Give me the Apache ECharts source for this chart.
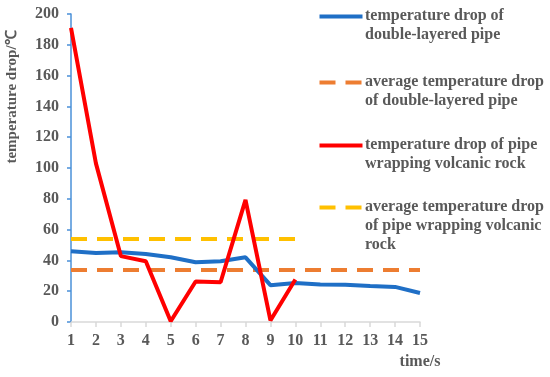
<!DOCTYPE html>
<html><head><meta charset="utf-8">
<script src="https://cdn.jsdelivr.net/npm/echarts@6/dist/echarts.min.js"></script>
<style>html,body{margin:0;padding:0;background:#fff}#c{width:550px;height:377px}</style>
</head><body><div id="c"></div>
<script>
var categories = ['1','2','3','4','5','6','7','8','9','10','11','12','13','14','15'];
var doubleLayered = [46, 44.8, 45.3, 44.2, 42, 38.8, 39.4, 42, 23.9, 25.4, 24.3, 24.2, 23.3, 22.8, 18.8];
var avgDoubleLayered = [33.7,33.7,33.7,33.7,33.7,33.7,33.7,33.7,33.7,33.7,33.7,33.7,33.7,33.7,33.7];
var volcanic = [191, 103, 42.8, 39.5, 0.5, 26.3, 25.8, 79.3, 1, 27.6];
var avgVolcanic = [53.9,53.9,53.9,53.9,53.9,53.9,53.9,53.9,53.9,53.9];
var yTicks = {min: 0, max: 200, interval: 20};

var names = ['temperature drop of\ndouble-layered pipe',
             'average temperature drop\nof double-layered pipe',
             'temperature drop of pipe\nwrapping volcanic rock',
             'average temperature drop\nof pipe wrapping volcanic\nrock'];
var colors = ['#1F6FC6', '#ED7D31', '#FF0000', '#FFC000'];
var dashed = [false, true, false, true];
var legendY = [16, 82, 145, 207];

var font = '"Liberation Serif", "Times New Roman", serif';
var textColor = '#595959';

var chart = echarts.init(document.getElementById('c'), null, {renderer: 'canvas'});
var graphics = [];
for (var i = 0; i < 4; i++) {
  graphics.push({
    type: 'line', left: 317, top: legendY[i] - 2,
    shape: {x1: 0, y1: 0, x2: 43, y2: 0},
    style: {stroke: colors[i], lineWidth: 4, lineDash: dashed[i] ? [16, 10] : null}
  });
  graphics.push({
    type: 'text', left: 365, top: legendY[i] - 10,
    style: {text: names[i], font: 'bold 16px ' + font, fill: textColor, lineHeight: 19}
  });
}
graphics.push({
  type: 'text', x: 12, y: 97, rotation: Math.PI / 2,
  style: {text: 'temperature drop/\u2103', font: 'bold 15px ' + font, fill: textColor,
          textAlign: 'center', textVerticalAlign: 'middle'}
});
graphics.push({
  type: 'text', x: 420, y: 362,
  style: {text: 'time/s', font: 'bold 16px ' + font, fill: textColor,
          textAlign: 'center', textVerticalAlign: 'middle'}
});

var option = {
  animation: false,
  grid: {left: 71, right: 130, top: 14, bottom: 55, containLabel: false},
  xAxis: {
    type: 'category', data: categories, boundaryGap: false,
    axisLine: {lineStyle: {color: '#D9D9D9', width: 1.5}},
    axisTick: {show: true, length: 5, lineStyle: {color: '#D9D9D9', width: 1.5}},
    axisLabel: {color: textColor, fontFamily: font, fontWeight: 'bold', fontSize: 16, margin: 11},
    splitLine: {show: false}
  },
  yAxis: {
    type: 'value', min: yTicks.min, max: yTicks.max, interval: yTicks.interval,
    axisLine: {show: true, lineStyle: {color: '#4A90D9', width: 1.5}},
    axisTick: {show: true, length: 4, lineStyle: {color: '#4A90D9', width: 1.5}},
    axisLabel: {color: textColor, fontFamily: font, fontWeight: 'bold', fontSize: 16, margin: 12},
    splitLine: {show: false}
  },
  series: [
    {type: 'line', data: doubleLayered, symbol: 'none', lineStyle: {color: colors[0], width: 4}, z: 3},
    {type: 'line', data: avgDoubleLayered, symbol: 'none', lineStyle: {color: colors[1], width: 4, type: [16, 10]}, z: 2},
    {type: 'line', data: volcanic, symbol: 'none', lineStyle: {color: colors[2], width: 4}, z: 4},
    {type: 'line', data: avgVolcanic, symbol: 'none', lineStyle: {color: colors[3], width: 4, type: [16, 10]}, z: 2}
  ],
  graphic: graphics
};
chart.setOption(option);
</script></body></html>
